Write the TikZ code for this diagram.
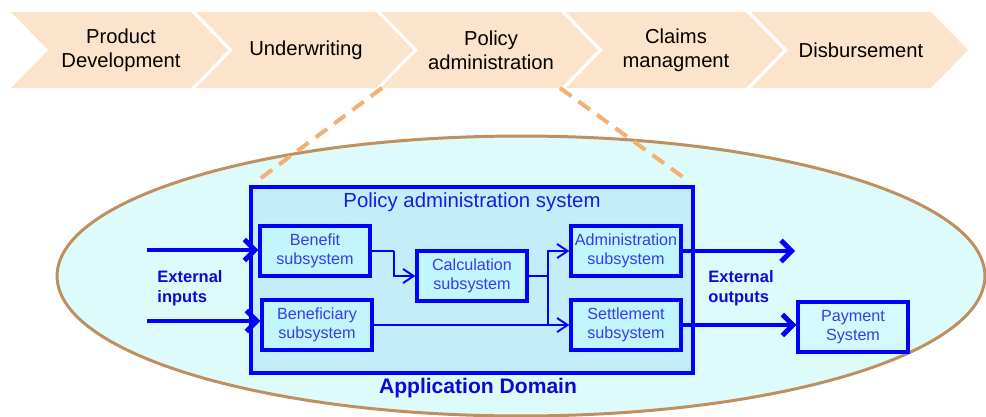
\documentclass[tikz,border=0pt]{standalone}
\usepackage{fontspec}
\setmainfont{Liberation Sans}
\usetikzlibrary{arrows.meta, positioning}

\definecolor{chevfill}{HTML}{FCE3CC}
\definecolor{dashcol}{HTML}{F4B072}
\definecolor{domfill}{HTML}{DDFBFB}
\definecolor{domline}{HTML}{BF8F5F}
\definecolor{pasfill}{HTML}{C3EEF9}
\definecolor{subfill}{HTML}{C2F6FD}
\definecolor{subtext}{HTML}{3A3AF0}
\definecolor{titletext}{HTML}{1A1AE6}
\definecolor{labeltext}{HTML}{0A0AD8}

\begin{document}
\begin{tikzpicture}[x=0.02cm, y=-0.02cm,
          chevron/.style={fill=chevfill},
          chevtext/.style={align=center, font=\fontsize{11.5}{13.6}\selectfont},
          sysbox/.style={draw=blue, line width=1.9pt, fill=pasfill, minimum width=8.84cm, minimum height=3.72cm},
          subbox/.style={draw=blue, line width=1.9pt, fill=subfill, text=subtext, align=center, inner sep=1pt,
                         minimum width=2.2cm, minimum height=1.0cm, font=\fontsize{9.2}{10.8}\selectfont},
          extlabel/.style={text=labeltext, align=left, font=\bfseries\fontsize{9.4}{11.3}\selectfont},
          conn/.style={draw=blue, line width=1.1pt},
          thinarrow/.style={conn, -{Straight Barb[length=6pt, width=8pt]}},
          bigarrow/.style={draw=blue, line width=2.8pt, -{Straight Barb[length=6pt, width=12pt]}},
          zoomline/.style={draw=dashcol, line width=2.3pt, dash pattern=on 8pt off 5pt}]

  \useasboundingbox (0,0) rectangle (986,416);

  \foreach \i/\nm/\txt in {0/pd/{Product\\Development}, 1/uw/Underwriting, 2/pa/{Policy\\administration},
                           3/cm/{Claims\\managment}, 4/db/Disbursement}{
    \fill[chevron] ({11+185*\i},12) -- ++(180,0) -- ++(37,38) -- ++(-37,38) -- ++(-180,0) -- ++(37,-38) -- cycle;
    \node[chevtext] (\nm) at ({121+185*\i},50) {\txt};
  }

  \draw[draw=domline, line width=1.7pt, fill=domfill] (521,276) ellipse [x radius=9.28cm, y radius=2.8cm];

  \coordinate (pa sw) at (382,88);
  \coordinate (pa se) at (560,88);
  \coordinate (zoom l) at (257,181);
  \coordinate (zoom r) at (687,180);
  \draw[zoomline] (pa sw) -- (zoom l);
  \draw[zoomline] (pa se) -- (zoom r);

  \node[sysbox] (pas) at (472,280) {};
  \node[text=titletext, font=\fontsize{11.6}{14}\selectfont] (pastitle) at (472,202) {Policy administration system};

  \node[subbox] (benefit) at (315,251) {Benefit\\subsystem};
  \node[subbox] (beneficiary) at (317,325) {Beneficiary\\subsystem};
  \node[subbox] (calc) at (472,276) {Calculation\\subsystem};
  \node[subbox] (admin) at (626,251) {Administration\\subsystem};
  \node[subbox] (settle) at (626,325) {Settlement\\subsystem};
  \node[subbox, fill=subfill!70!white] (payment) at (853,327) {Payment\\System};

  \coordinate (bend) at (394,251);
  \coordinate (split) at (548,276);
  \draw[conn] (benefit.east) -- (bend);
  \draw[thinarrow] (bend) |- (calc.west);
  \draw[conn] (calc.east) -- (split);
  \draw[thinarrow] (split) |- (admin.west);
  \draw[thinarrow] (split) |- (settle.west);
  \draw[conn] (beneficiary.east) -- (beneficiary.east -| split);

  \coordinate (in1) at (147,250);
  \coordinate (in2) at (147,321);
  \coordinate (out1) at (795,251);
  \draw[bigarrow] (in1) -- (in1 -| benefit.west);
  \draw[bigarrow] (in2) -- (in2 -| beneficiary.west);
  \draw[bigarrow] (admin.east) -- (out1);
  \draw[bigarrow] (settle.east) -- (settle.east -| payment.west);

  \node[extlabel] (extin) at (190,288) {External\\inputs};
  \node[extlabel] (extout) at (741,288) {External\\outputs};
  \node[text=labeltext, font=\bfseries\fontsize{12}{14}\selectfont] (appdom) at (478,388) {Application Domain};

\end{tikzpicture}
\end{document}
